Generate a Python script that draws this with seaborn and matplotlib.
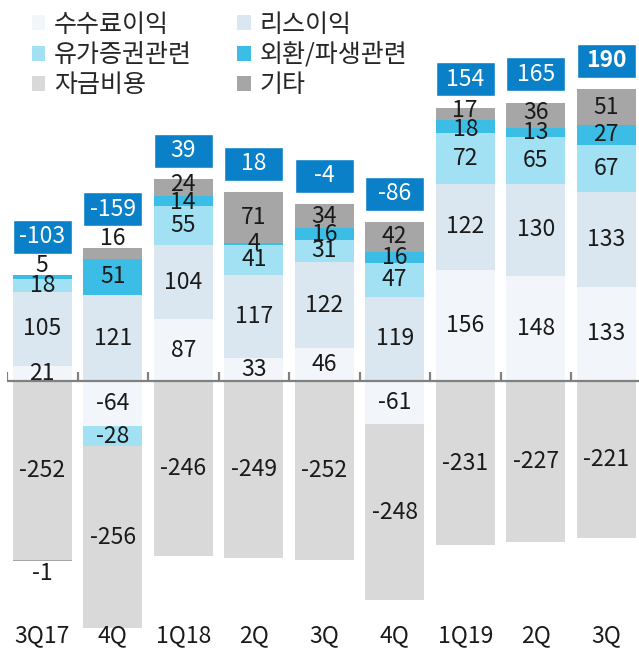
import numpy as np
import matplotlib
matplotlib.use("Agg")
import matplotlib.pyplot as plt
from matplotlib.patches import Patch
import seaborn as sns

categories = ["3Q17", "4Q", "1Q18", "2Q", "3Q", "4Q", "1Q19", "2Q", "3Q"]
fee = [21, -64, 87, 33, 46, -61, 156, 148, 133]          # 수수료이익
lease = [105, 121, 104, 117, 122, 119, 122, 130, 133]    # 리스이익
securities = [18, -28, 55, 41, 31, 47, 72, 65, 67]       # 유가증권관련
fx = [5, 51, 14, 4, 16, 16, 18, 13, 27]                  # 외환/파생관련
funding = [-252, -256, -246, -249, -252, -248, -231, -227, -221]  # 자금비용
other = [-1, 16, 24, 71, 34, 42, 17, 36, 51]             # 기타
totals = [-103, -159, 39, 18, -4, -86, 154, 165, 190]

series_names = ["수수료이익", "리스이익", "유가증권관련", "외환/파생관련", "자금비용", "기타"]
colors = {"수수료이익": "#f2f6fa", "리스이익": "#dbe7f0", "유가증권관련": "#a2e0f3",
          "외환/파생관련": "#3bbde6", "자금비용": "#d9d9d9", "기타": "#a6a6a6"}
box_color = "#0a80c9"

sns.set_theme(style="white")
plt.rcParams["font.family"] = ["Noto Sans CJK KR", "DejaVu Sans"]

W, H = 639, 652
fig = plt.figure(figsize=(W / 100, H / 100), dpi=100)
step = 70.5
ax = fig.add_axes([7 / W, 0, step * 9 / W, 1])
ppu = 0.71
zero_px = 381
ax.set_xlim(-0.5, 8.5)
ax.set_ylim(-(H - zero_px) / ppu, zero_px / ppu)
ax.axis("off")

data = {"수수료이익": fee, "리스이익": lease, "유가증권관련": securities,
        "외환/파생관련": fx, "자금비용": funding, "기타": other}
stack_order = ["수수료이익", "리스이익", "유가증권관련", "외환/파생관련", "자금비용", "기타"]

x = np.arange(len(categories))
bw = 0.84
pos_base = np.zeros(len(categories))
neg_base = np.zeros(len(categories))
fs = 16.5
above_idx = {(0, "외환/파생관련"), (1, "기타")}
below_idx = {(0, "기타")}
nudge = {(6, "외환/파생관련"): -5, (6, "기타"): 4, (2, "기타"): 5, (2, "외환/파생관련"): -2,
         (7, "기타"): 4}

for name in stack_order:
    vals = np.array(data[name], dtype=float)
    bottoms = np.where(vals >= 0, pos_base, neg_base)
    ax.bar(x, vals, bottom=bottoms, width=bw, color=colors[name], edgecolor="none", zorder=2)
    for i, v in enumerate(vals):
        if (i, name) in above_idx:
            ypos = bottoms[i] + v + 13
        elif (i, name) in below_idx:
            ypos = bottoms[i] + v - 18
        else:
            ypos = bottoms[i] + v / 2 + nudge.get((i, name), 0)
        ax.text(x[i], ypos, f"{int(v)}", ha="center", va="center", fontsize=fs,
                color="#1a1a1a", zorder=5)
    pos_base = np.where(vals >= 0, pos_base + vals, pos_base)
    neg_base = np.where(vals < 0, neg_base + vals, neg_base)

# total boxes
gaps = np.array([30 if any((i, n) in above_idx for n in series_names) else 16 for i in range(len(categories))])
box_h = 48
box_bottom = pos_base + gaps
ax.bar(x, [box_h] * len(categories), bottom=box_bottom, width=bw, color=box_color, zorder=3)
for i, t in enumerate(totals):
    ax.text(x[i], box_bottom[i] + box_h / 2, f"{t}", ha="center", va="center", fontsize=fs,
            color="white", zorder=6, fontweight="bold" if i == len(totals) - 1 else "normal")

# zero axis line with upward ticks at category boundaries
ax.axhline(0, color="#808080", lw=1.6, zorder=4)
ax.vlines(np.arange(-0.5, 9.0, 1.0), 0, 12, color="#808080", lw=1.6, zorder=4)

# category labels
for i, c in enumerate(categories):
    ax.text(x[i], -(636 - zero_px) / ppu, c, ha="center", va="center", fontsize=fs, color="#1a1a1a")

legend_order = ["수수료이익", "유가증권관련", "자금비용", "리스이익", "외환/파생관련", "기타"]
handles = [Patch(facecolor=colors[n], edgecolor="none", label=n) for n in legend_order]
fig.legend(handles=handles, loc="upper left", bbox_to_anchor=(14 / W, 1 + 6 / H), ncol=2,
           frameon=False, fontsize=18, handlelength=0.55, handleheight=0.55,
           handletextpad=0.35, columnspacing=1.8, labelspacing=0.18, borderpad=0.2)

fig.savefig("out.png", dpi=100)
